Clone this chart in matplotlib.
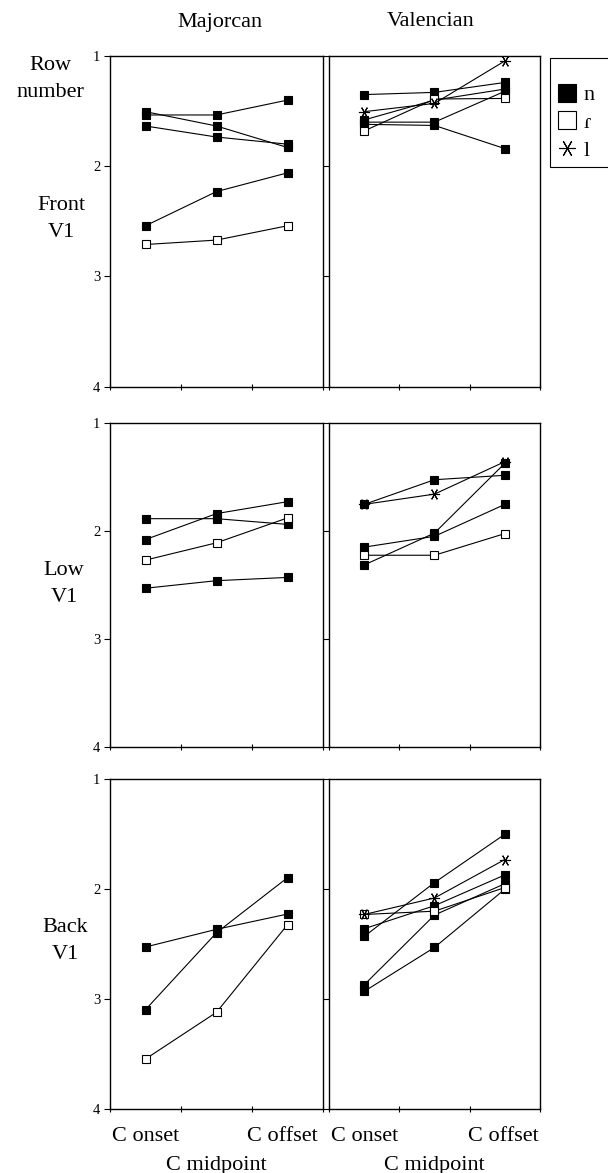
import matplotlib

matplotlib.use("Agg")
import matplotlib.pyplot as plt  # noqa: E402
from matplotlib.lines import Line2D  # noqa: E402
from matplotlib.transforms import ScaledTranslation  # noqa: E402

plt.rcParams["font.family"] = ["Liberation Serif", "DejaVu Serif"]

FIG_W, FIG_H = 608, 1173
TEXT_SIZE = 16
TICK_SIZE = 10.5
LINE_SPACING = 1.55

categories = ["C onset", "C midpoint", "C offset"]
dialects = ["Majorcan", "Valencian"]
vowel_rows = ["Front\nV1", "Low\nV1", "Back\nV1"]
segments = ["n", "ɾ", "l"]
row_ticks = [1, 2, 3, 4]

# Front V1
maj_front_n = [[1.535, 1.535, 1.40], [1.505, 1.635, 1.83], [1.635, 1.735, 1.80], [2.54, 2.23, 2.06]]
maj_front_r = [[2.71, 2.67, 2.54]]
maj_front_l = []
val_front_n = [[1.35, 1.33, 1.24], [1.58, 1.40, 1.30], [1.60, 1.60, 1.32], [1.62, 1.63, 1.84]]
val_front_r = [[1.68, 1.39, 1.385]]
val_front_l = [[1.505, 1.43, 1.045]]

# Low V1
maj_low_n = [[1.887, 1.887, 1.94], [2.08, 1.84, 1.73], [2.53, 2.46, 2.43]]
maj_low_r = [[2.27, 2.11, 1.88]]
maj_low_l = []
val_low_n = [[1.755, 1.527, 1.486], [2.15, 2.05, 1.755], [2.315, 2.02, 1.375]]
val_low_r = [[2.225, 2.225, 2.025]]
val_low_l = [[1.755, 1.66, 1.36]]

# Back V1
maj_back_n = [[2.526, 2.365, 2.226], [3.096, 2.396, 1.895]]
maj_back_r = [[3.545, 3.12, 2.323]]
maj_back_l = []
val_back_n = [[2.43, 1.94, 1.50], [2.36, 2.15, 1.87], [2.87, 2.235, 1.95], [2.93, 2.53, 2.00]]
val_back_r = [[2.23, 2.20, 1.985]]
val_back_l = [[2.23, 2.08, 1.73]]

panels = [
    [(maj_front_n, maj_front_r, maj_front_l), (val_front_n, val_front_r, val_front_l)],
    [(maj_low_n, maj_low_r, maj_low_l), (val_low_n, val_low_r, val_low_l)],
    [(maj_back_n, maj_back_r, maj_back_l), (val_back_n, val_back_r, val_back_l)],
]

ASTERISK = (6, 2, 90)
STYLES = {
    "n": dict(marker="s", markerfacecolor="black", markeredgecolor="black", markersize=5.5),
    "ɾ": dict(marker="s", markerfacecolor="white", markeredgecolor="black", markersize=5.5),
    "l": dict(marker=ASTERISK, markerfacecolor="black", markeredgecolor="black", markersize=8),
}

# panel boxes in pixels: (left, right) per column, (top, bottom) per row
COLS_PX = [(110, 323), (329, 540)]
ROWS_PX = [(56, 386.7), (422.7, 747.3), (779.3, 1109)]
# small horizontal nudge of the last category label, per column (px)
OFFSET_NUDGE = [-5, -1]


def px_box(col, row):
    x0, x1 = COLS_PX[col]
    y0, y1 = ROWS_PX[row]
    return [x0 / FIG_W, 1 - y1 / FIG_H, (x1 - x0) / FIG_W, (y1 - y0) / FIG_H]


def setup_axes(fig, ax, col, row):
    n_cat = len(categories)
    ax.set_xlim(0.5, n_cat + 0.5)
    ax.set_xticks([i + 0.5 for i in range(n_cat + 1)])
    ax.set_xticklabels([])
    ax.set_xticks(range(1, n_cat + 1), minor=True)
    ax.tick_params(axis="x", which="minor", length=0, pad=13)
    ax.tick_params(axis="x", which="major", direction="inout", length=5, width=0.8)

    ax.set_ylim(row_ticks[-1], row_ticks[0])
    ax.set_yticks(row_ticks)
    ax.tick_params(axis="y", direction="out", length=4, width=0.8, labelsize=TICK_SIZE, pad=3)
    if col > 0:
        ax.tick_params(axis="y", labelleft=False)
    for spine in ax.spines.values():
        spine.set_linewidth(1.0)

    if row == len(ROWS_PX) - 1:
        labels = [c if i % 2 == 0 else "\n" + c for i, c in enumerate(categories)]
        ticklabels = ax.set_xticklabels(labels, minor=True, fontsize=TEXT_SIZE)
        for lab in ticklabels:
            lab.set_linespacing(1.7)
        last = ax.xaxis.get_minor_ticks()[n_cat - 1].label1
        last.set_transform(last.get_transform() + ScaledTranslation(OFFSET_NUDGE[col] / 100, 0, fig.dpi_scale_trans))
    else:
        ax.set_xticklabels([], minor=True)


fig = plt.figure(figsize=(FIG_W / 100, FIG_H / 100), dpi=100)

xs = list(range(1, len(categories) + 1))
for row, row_panels in enumerate(panels):
    for col, groups in enumerate(row_panels):
        ax = fig.add_axes(px_box(col, row))
        for seg, group in zip(segments, groups):
            for vals in group:
                ax.plot(xs, vals, color="black", linewidth=0.8, markeredgewidth=0.8, **STYLES[seg])
        setup_axes(fig, ax, col, row)

# column titles
fig.text(220 / FIG_W, 1 - 22 / FIG_H, dialects[0], ha="center", va="center", fontsize=TEXT_SIZE)
fig.text(431 / FIG_W, 1 - 21 / FIG_H, dialects[1], ha="center", va="center", fontsize=TEXT_SIZE)

# row labels
fig.text(50 / FIG_W, 1 - 79 / FIG_H, "Row\nnumber", ha="center", va="center",
         fontsize=TEXT_SIZE, linespacing=LINE_SPACING)
for (lx, ly), text in zip([(61, 219), (64, 584), (65, 941)], vowel_rows):
    fig.text(lx / FIG_W, 1 - ly / FIG_H, text, ha="center", va="center",
             fontsize=TEXT_SIZE, linespacing=LINE_SPACING)

# legend (frame runs off the right edge like the original)
legend_styles = dict(STYLES)
legend_styles["l"] = dict(STYLES["l"], markersize=5)
handles = [Line2D([], [], linestyle="none", markeredgewidth=0.8, **legend_styles[s]) for s in segments]
leg = fig.legend(
    handles,
    [s + "     " for s in segments],
    loc="upper left",
    bbox_to_anchor=(550 / FIG_W, 1 - 58 / FIG_H),
    bbox_transform=fig.transFigure,
    fontsize=TEXT_SIZE,
    title=" ",
    title_fontsize=10,
    frameon=True,
    fancybox=False,
    edgecolor="black",
    framealpha=1,
    borderaxespad=0,
    borderpad=0.3,
    handlelength=0.9,
    handletextpad=0.35,
    labelspacing=0.32,
    markerscale=2.4,
)
leg.get_frame().set_linewidth(0.8)

fig.savefig("out.png", dpi=100)
